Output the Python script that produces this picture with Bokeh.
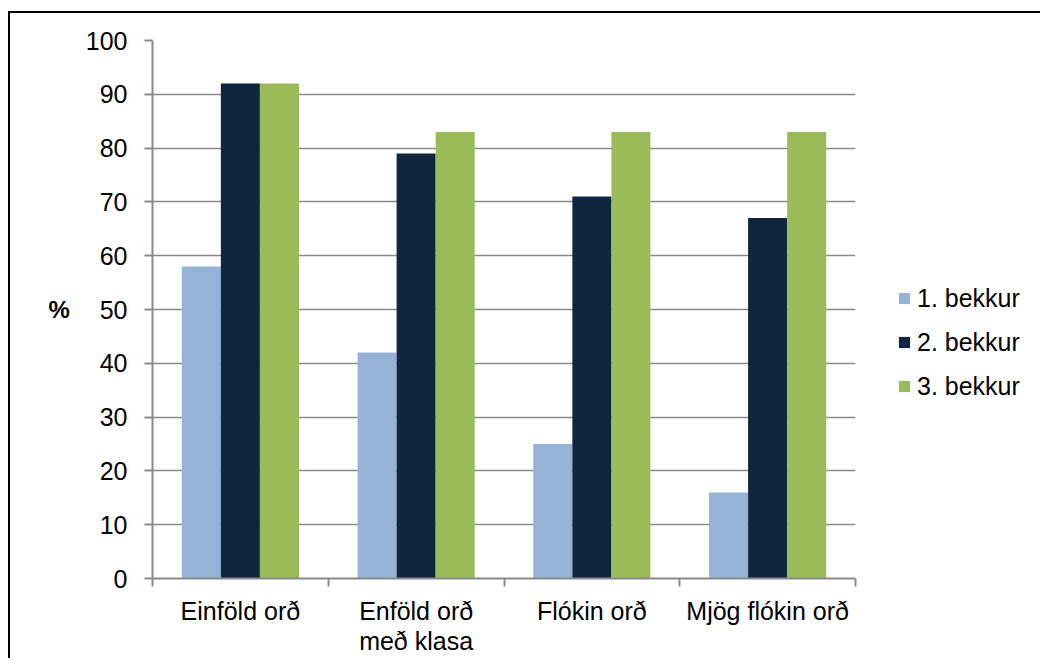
from bokeh.plotting import figure
from bokeh.models import (Range1d, FixedTicker, Legend, LegendItem,
                          ColumnDataSource)
from bokeh.embed import file_html
from bokeh.resources import INLINE

# Word categories and the share (%) of pupils per grade
categories = ["Einföld orð", "Enföld orð\nmeð klasa", "Flókin orð", "Mjög flókin orð"]
grades = ["1. bekkur", "2. bekkur", "3. bekkur"]
grade1 = [58, 42, 25, 16]
grade2 = [92, 79, 71, 67]
grade3 = [92, 83, 83, 83]
y_ticks = [0, 10, 20, 30, 40, 50, 60, 70, 80, 90, 100]

colors = ["#95B3D7", "#10253F", "#9BBB59"]
FONT = "Liberation Sans"
FS = "25px"
GRID = "#8a8a8a"

n = len(categories)
centers = [i + 0.5 for i in range(n)]
bar_w = 1 / 4.5

p = figure(frame_width=703, frame_height=538, output_backend="svg", toolbar_location=None,
           x_range=Range1d(0, n), y_range=Range1d(0, 100),
           min_border_left=142, min_border_right=0,
           min_border_top=27, min_border_bottom=75)
p.styles = {"margin-left": "8px", "margin-top": "11px",
            "border-left": "2px solid #000", "border-top": "2px solid #000"}
p.outline_line_color = None
p.background_fill_color = "white"
p.border_fill_color = "white"

renderers = []
for k, vals in enumerate([grade1, grade2, grade3]):
    xs = [c + (k - 1) * bar_w for c in centers]
    src = ColumnDataSource(dict(x=xs, top=vals))
    r = p.vbar(x="x", top="top", width=bar_w, bottom=0, source=src,
               fill_color=colors[k], line_color=None)
    renderers.append(r)

# y axis
p.yaxis.ticker = FixedTicker(ticks=y_ticks)
p.yaxis.major_tick_out = 8
p.yaxis.major_tick_in = 0
p.yaxis.minor_tick_out = 0
p.yaxis.minor_tick_in = 0
p.yaxis.axis_line_color = GRID
p.yaxis.axis_line_width = 2
p.yaxis.major_tick_line_color = GRID
p.yaxis.major_tick_line_width = 2
p.yaxis.major_label_text_font = FONT
p.yaxis.major_label_text_font_size = FS
p.yaxis.major_label_text_color = "#000"
p.yaxis.major_label_standoff = 17
p.yaxis.axis_label = "%"
p.yaxis.axis_label_text_font = FONT
p.yaxis.axis_label_text_font_size = "24px"
p.yaxis.axis_label_text_font_style = "bold"
p.yaxis.axis_label_text_color = "#000"
p.yaxis.axis_label_orientation = "horizontal"
p.yaxis.axis_label_standoff = 13

# x axis: labels at category centres, tick marks on category boundaries
p.xaxis.ticker = FixedTicker(ticks=centers, minor_ticks=list(range(n + 1)))
p.xaxis.major_label_overrides = {c: lab for c, lab in zip(centers, categories)}
p.xaxis.major_tick_out = 0
p.xaxis.major_tick_in = 0
p.xaxis.minor_tick_out = 8
p.xaxis.minor_tick_in = 0
p.xaxis.minor_tick_line_color = GRID
p.xaxis.minor_tick_line_width = 2
p.xaxis.axis_line_color = GRID
p.xaxis.axis_line_width = 2
p.xaxis.major_label_text_font = FONT
p.xaxis.major_label_text_font_size = FS
p.xaxis.major_label_text_color = "#000"
p.xaxis.major_label_text_line_height = 1.1
p.xaxis.major_label_standoff = 10

p.xgrid.grid_line_color = None
p.ygrid.ticker = FixedTicker(ticks=y_ticks)
p.ygrid.grid_line_color = GRID
p.ygrid.grid_line_width = 1.5

legend = Legend(items=[LegendItem(label=g, renderers=[r]) for g, r in zip(grades, renderers)],
                location=(42, 177), orientation="vertical",
                glyph_width=14, glyph_height=14, label_height=30, spacing=14,
                padding=0, margin=0, border_line_color=None,
                background_fill_alpha=0, label_standoff=6,
                label_text_font=FONT, label_text_font_size=FS,
                label_text_color="#000")
p.add_layout(legend, "right")

open("out.html", "w").write(file_html(p, INLINE))
